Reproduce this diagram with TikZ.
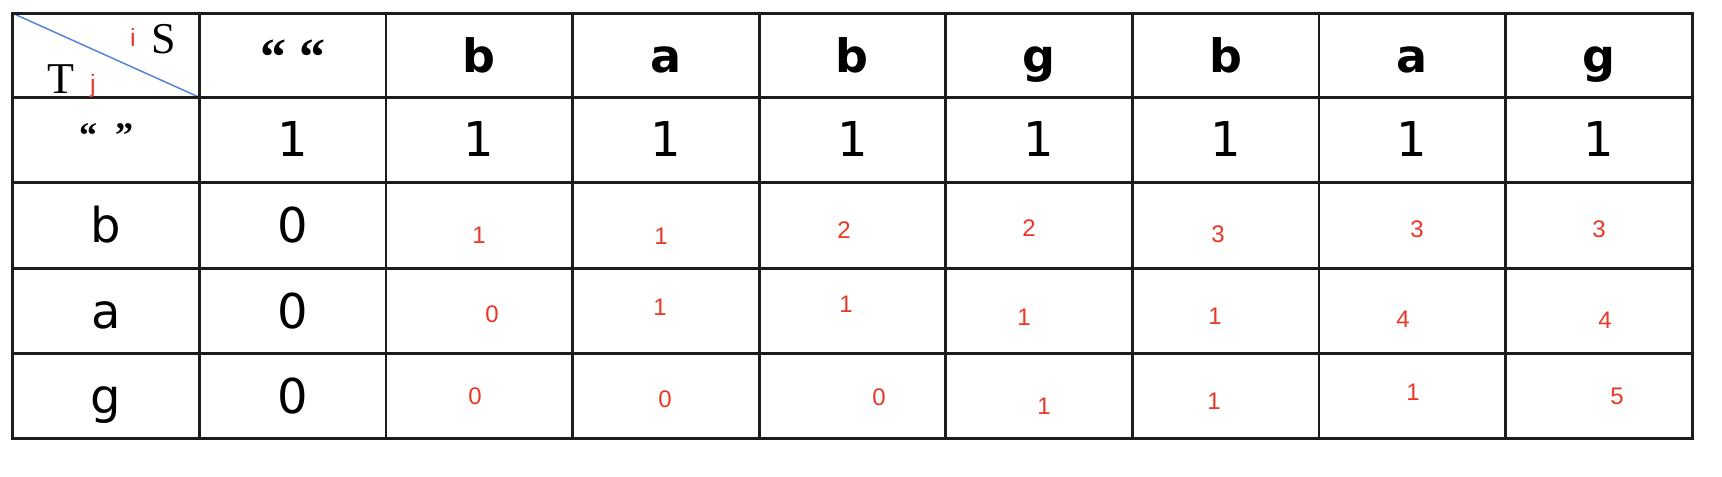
\documentclass[tikz,border=0pt]{standalone}
\usepackage{fontspec}
\setmainfont{DejaVu Sans}
\newfontfamily\serf{Liberation Serif}
\newfontfamily\redf{Liberation Sans}
\definecolor{redtxt}{RGB}{232,56,40}
\definecolor{bluediag}{RGB}{86,134,214}
\definecolor{gridc}{RGB}{28,28,28}
\tikzset{
  gridline/.style={draw=gridc, line width=1.4pt, line cap=rect},
  diagline/.style={draw=bluediag, line width=0.75pt},
  headtxt/.style={anchor=base, inner sep=0pt, font=\fontsize{23}{27}\selectfont\bfseries},
  bodytxt/.style={anchor=base, inner sep=0pt, font=\fontsize{24}{28}\selectfont},
  redtxtst/.style={anchor=center, inner sep=0pt, text=redtxt, font=\redf\fontsize{12}{14}\selectfont},
  sertxt/.style={anchor=base, inner sep=0pt, font=\serf\fontsize{22}{26}\selectfont},
  quotetxt/.style={anchor=base, inner sep=0pt, font=\serf\fontsize{26}{30}\selectfont\bfseries},
  smallquote/.style={anchor=base, inner sep=0pt, font=\serf\fontsize{18}{22}\selectfont\bfseries},
  idx/.style={anchor=base, inner sep=0pt, text=redtxt, font=\redf\fontsize{12.5}{15}\selectfont}
}
\begin{document}
\begin{tikzpicture}[x=0.5pt,y=-0.5pt]
\useasboundingbox (0,0) rectangle (1722,476);
\fill[white] (0,0) rectangle (1722,476);
% diagonal of the corner cell
\coordinate (tl) at (12.7,13.3);
\coordinate (br) at (199.3,97.3);
\draw[diagline] (tl) -- (br);
% grid
\foreach \k in {0,...,9}
  \draw[gridline] ({12.7+186.6*\k},13.3) -- ({12.7+186.6*\k},438.3);
\foreach \y in {13.3,97.3,182.7,268.3,353.3,438.3}
  \draw[gridline] (12.7,\y) -- (1692.1,\y);
% corner cell
\node[sertxt] (S) at (164,54) {S};
\node[sertxt] (T) at (61,94) {T};
\node[idx] (i) at (133,47) {i};
\node[idx] (j) at (93,93) {j};
% header row
\node[quotetxt] (hq) at (292.6,75) {“ “};
\foreach \l [count=\k] in {b,a,b,g,b,a,g}
  \node[headtxt] (h\k) at ({12.7+186.6*(\k+1)+93.3},73) {\l};
% first row
\node[smallquote] (rq) at (106,147.5) {“\ \ ”};
\foreach \k in {1,...,8}
  \node[bodytxt] (one\k) at ({12.7+186.6*\k+93.3},156.7) {1};
% left column
\node[bodytxt] (lb) at (106,242.7) {b};
\node[bodytxt] (la) at (106,328) {a};
\node[bodytxt] (lg) at (106,413) {g};
\node[bodytxt] (zb) at (292.6,242.7) {0};
\node[bodytxt] (za) at (292.6,328) {0};
\node[bodytxt] (zg) at (292.6,413) {0};
% red values
\foreach \x/\y/\v [count=\k] in {479/235/1, 661/236/1, 844/230/2, 1029/228/2, 1218/234/3, 1417/229/3, 1599/229/3}
  \node[redtxtst] (rb\k) at (\x,\y) {\v};
\foreach \x/\y/\v [count=\k] in {492/314/0, 660/307/1, 846/304/1, 1024/317/1, 1215/316/1, 1403/319/4, 1605/320/4}
  \node[redtxtst] (ra\k) at (\x,\y) {\v};
\foreach \x/\y/\v [count=\k] in {475/396/0, 665/399/0, 879/397/0, 1044/406/1, 1214/401/1, 1413/392/1, 1617/396/5}
  \node[redtxtst] (rg\k) at (\x,\y) {\v};
\end{tikzpicture}
\end{document}
